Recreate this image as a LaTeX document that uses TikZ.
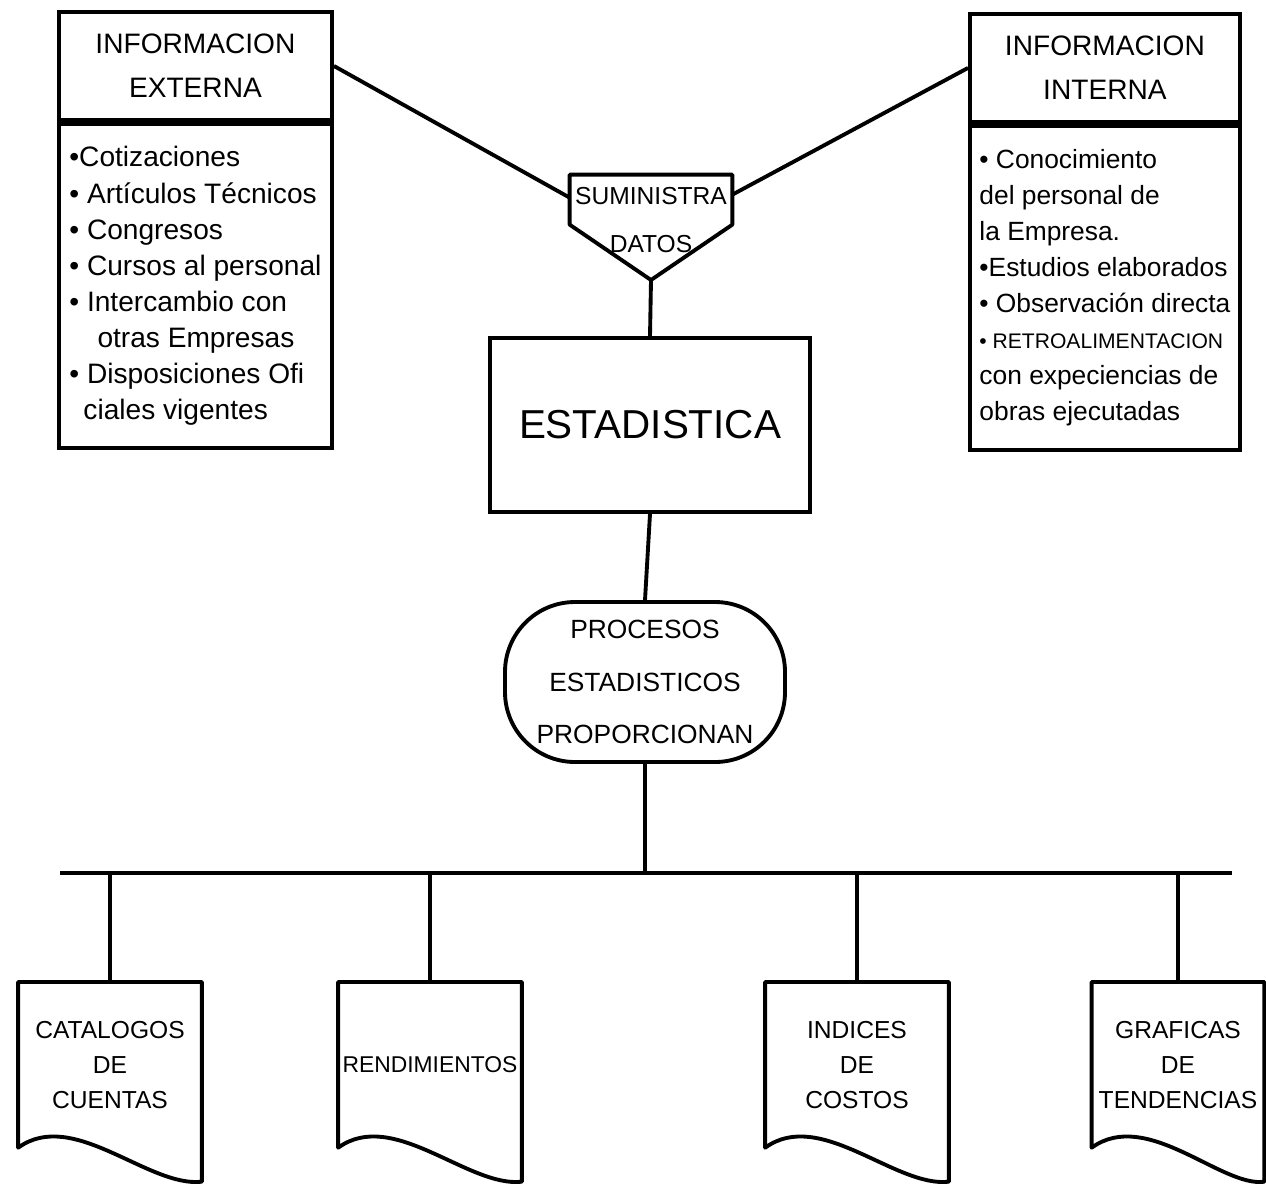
\documentclass[tikz,border=0pt]{standalone}
\usepackage{fontspec}
\setmainfont{Liberation Sans}
\usetikzlibrary{positioning,calc}

\begin{document}
\begin{tikzpicture}[
    x=0.2mm, y=-0.2mm,
    conn/.style={line width=2.2pt, line join=round},
    headbox/.style={draw, line width=2.2pt, rectangle, align=center, minimum width=54.6mm, minimum height=21.6mm, anchor=north west, font=\fontsize{16}{25}\selectfont},
    listbox/.style={draw, line width=2.2pt, rectangle, align=left, minimum width=54.6mm, minimum height=64.8mm, inner sep=1mm, font=\fontsize{16}{20.5}\selectfont},
    sumbox/.style={align=center, minimum width=32.4mm, minimum height=18mm, inner sep=0.5mm, font=\fontsize{14}{27}\selectfont},
    estbox/.style={draw, line width=2.2pt, rectangle, minimum width=64mm, minimum height=34.8mm, font=\fontsize{23}{26}\selectfont},
    procbox/.style={draw, line width=2.2pt, rectangle, rounded corners=14mm, align=center, minimum width=56mm, minimum height=32mm, font=\fontsize{15}{30}\selectfont},
    docbox/.style={align=center, anchor=north, minimum width=36.6mm, minimum height=33mm, inner sep=0.5mm, font=\fontsize{14}{20}\selectfont}
]
\useasboundingbox (0,0) rectangle (1266,1189);

% Fuentes de informacion
\node[headbox] (extHead) at (57,10) {INFORMACION\\EXTERNA};
\node[listbox, below=0pt of extHead] (extBody) {\textbullet Cotizaciones\\
\textbullet\ Artículos Técnicos\\
\textbullet\ Congresos\\
\textbullet\ Cursos al personal\\
\textbullet\ Intercambio con\\
\hspace*{1em}otras Empresas\\
\textbullet\ Disposiciones Ofi\\
\hspace*{0.5em}ciales vigentes};

\node[headbox, minimum width=54mm] (intHead) at (968,12) {INFORMACION\\INTERNA};
\node[listbox, minimum width=54mm, below=0pt of intHead, font=\fontsize{15}{20.5}\selectfont] (intBody) {\textbullet\ Conocimiento\\
del personal de\\
la Empresa.\\
\textbullet Estudios elaborados\\
\textbullet\ Observación directa\\
{\fontsize{12}{20.5}\selectfont\textbullet\ RETROALIMENTACION}\\
con expeciencias de\\
obras ejecutadas};

% Suministra datos (pentagono)
\node[sumbox] (sum) at (651,220) {SUMINISTRA\\DATOS};
\coordinate (sumtip) at (651,280);
\coordinate (sumL) at ($(sum.north west)+(0,23)$);
\coordinate (sumR) at ($(sum.north east)+(0,20)$);
\draw[conn] (sum.north west) -- (sum.north east) -- ($(sum.north east)+(0,50)$)
    -- (sumtip) -- ($(sum.north west)+(0,50)$) -- cycle;

% Estadistica y procesos
\node[estbox] (est) at (650,425) {ESTADISTICA};
\node[procbox] (proc) at (645,682) {PROCESOS\\ESTADISTICOS\\PROPORCIONAN};

% Documentos de salida
\node[docbox] (cat) at (110,982) {CATALOGOS\\DE\\CUENTAS};
\node[docbox, font=\fontsize{13}{20}\selectfont] (ren) at (430,982) {RENDIMIENTOS};
\node[docbox] (ind) at (857,982) {INDICES\\DE\\COSTOS};
\node[docbox, minimum width=34.4mm] (gra) at (1178,982) {GRAFICAS\\DE\\TENDENCIAS};

\foreach \d in {cat,ren,ind,gra}
  \draw[conn] (\d.north west) -- (\d.north east) -- ($(\d.south east)+(0,34)$)
    .. controls ($(\d.south west)+(130,40)$) and ($(\d.south west)+(55,-40)$) .. (\d.south west) -- cycle;

% Conexiones
\draw[conn] (extHead.east) -- (sumL);
\draw[conn] (intHead.west) -- (sumR);
\draw[conn] (sumtip) -- (est.north);
\draw[conn] (est.south) -- (proc.north);

\coordinate (busL) at (60,873);
\coordinate (busR) at (1232,873);
\draw[conn] (busL) -- (busR);
\draw[conn] (proc.south) -- (proc.south |- busL);
\foreach \d in {cat,ren,ind,gra}
  \draw[conn] (\d.north) -- (\d.north |- busL);

\end{tikzpicture}
\end{document}
